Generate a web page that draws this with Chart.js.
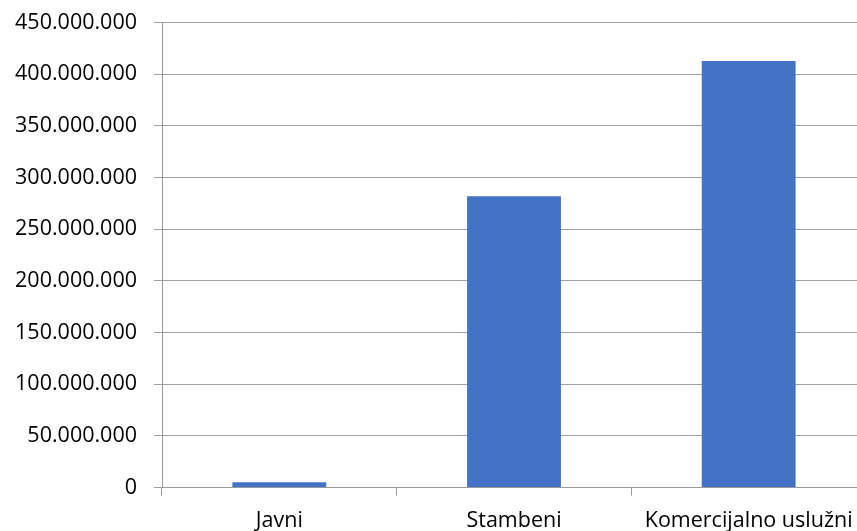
<!DOCTYPE html>
<html>
<head>
<meta charset="utf-8">
<script src="https://cdn.jsdelivr.net/npm/chart.js@4"></script>
<style>
  html, body { margin: 0; padding: 0; background: #fff; overflow: hidden; }
  #wrap { width: 866px; height: 531px; }
</style>
</head>
<body>
<div id="wrap"><canvas id="bar1" width="866" height="531"></canvas></div>
<script>
// data
var categories = ["Javni", "Stambeni", "Komercijalno uslužni"];
var values = [5000000, 282000000, 413000000];
var yMax = 450000000;
var yStep = 50000000;

function dots(v) {
	return String(v).replace(/\B(?=(\d{3})+(?!\d))/g, ".");
}

var font = { family: "'Open Sans', sans-serif", size: 21.5 };

var ctx = document.getElementById("bar1");
var chart = new Chart(ctx, {
	type: "bar",
	data: {
		labels: categories,
		datasets: [{
			data: values,
			backgroundColor: "#4472C4",
			barPercentage: 0.4,
			categoryPercentage: 1.0
		}]
	},
	options: {
		responsive: false,
		animation: false,
		layout: { padding: { top: 22.7, right: 0, bottom: 0, left: 0 } },
		plugins: {
			legend: { display: false },
			tooltip: { enabled: false }
		},
		scales: {
			x: {
				offset: true,
				grid: {
					offset: true,
					drawOnChartArea: false,
					drawTicks: true,
					tickLength: 8,
					color: "#999"
				},
				border: { color: "#999", width: 1 },
				ticks: { color: "#000", font: font, padding: 12, maxRotation: 0, autoSkip: false },
				afterFit: function(scale) {
					scale.height = 43.5;
					scale.paddingLeft = 0;
					scale.paddingRight = 0;
				}
			},
			y: {
				min: 0,
				max: yMax,
				grid: { color: "#a0a0a0", tickLength: 8 },
				border: { color: "#999", width: 1 },
				ticks: {
					stepSize: yStep,
					color: "#000",
					font: font,
					padding: 17,
					callback: function(v) { return dots(v); }
				},
				afterFit: function(scale) {
					scale.width = 162;
					scale.paddingTop = 0;
					scale.paddingBottom = 0;
				}
			}
		}
	}
});
</script>
</body>
</html>
